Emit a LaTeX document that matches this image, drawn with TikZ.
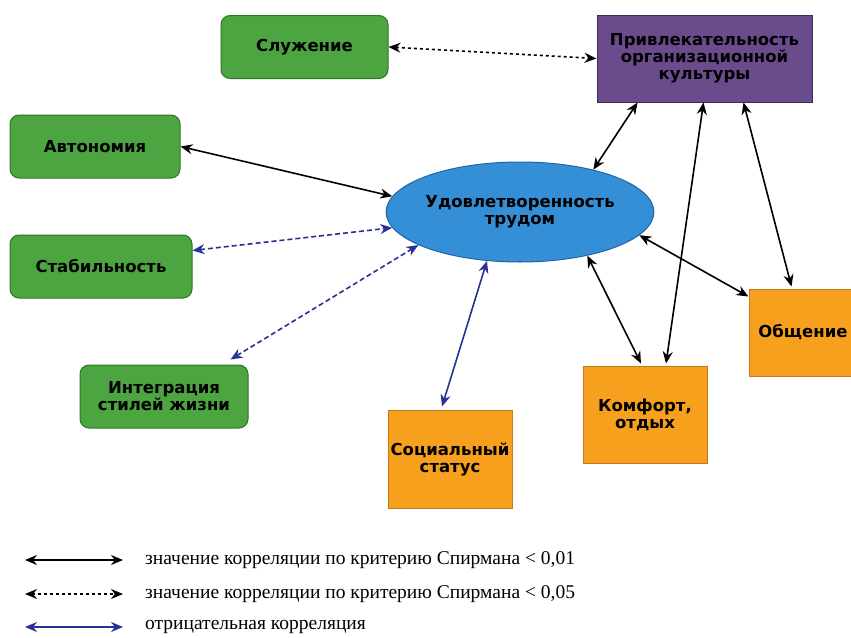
\documentclass[tikz,border=0pt]{standalone}
\usepackage{fontspec}
\setmainfont{Liberation Serif}
\newfontfamily\boxfont{DejaVu Sans}
\usetikzlibrary{arrows.meta,shapes.geometric}
\definecolor{gfill}{RGB}{76,165,64}
\definecolor{gdraw}{RGB}{48,118,40}
\definecolor{pfill}{RGB}{106,76,140}
\definecolor{pdraw}{RGB}{62,42,84}
\definecolor{bfill}{RGB}{52,143,214}
\definecolor{bdraw}{RGB}{36,98,168}
\definecolor{ofill}{RGB}{246,160,30}
\definecolor{odraw}{RGB}{196,122,30}
\definecolor{negc}{RGB}{40,50,150}
\tikzset{
  bfont/.style={font=\boxfont\bfseries\fontsize{16.5}{17}\selectfont},
  gbox/.style={draw=gdraw,fill=gfill,line width=1pt,rounded corners=9pt,inner sep=0pt,bfont,align=center},
  pbox/.style={draw=pdraw,fill=pfill,line width=1pt,inner sep=0pt,bfont,align=center},
  obox/.style={draw=odraw,fill=ofill,line width=1pt,inner sep=0pt,bfont,align=center},
  ell/.style={ellipse,draw=bdraw,fill=bfill,line width=1pt,inner sep=0pt,bfont,align=center},
  solidarr/.style={{Stealth[length=12pt,width=10pt]}-{Stealth[length=12pt,width=10pt]},line width=1.6pt,black},
  dasharr/.style={solidarr,dash pattern=on 3pt off 3pt},
  negarr/.style={solidarr,negc},
  negdash/.style={negarr,dash pattern=on 5pt off 3pt},
  legtext/.style={anchor=west,font=\fontsize{19.5}{22}\selectfont,inner sep=0pt}
}
\begin{document}
\begin{tikzpicture}[x=1pt,y=-1pt]
\useasboundingbox[fill=white] (0,0) rectangle (851,637);
% nodes
\node[gbox,minimum width=167pt,minimum height=63pt] (slu) at (304.5,47) {Служение};
\node[pbox,minimum width=215pt,minimum height=87pt] (priv) at (704.5,58.5) {Привлекательность\\организационной\\культуры};
\node[gbox,minimum width=170pt,minimum height=63pt] (avt) at (95,146.5) {Автономия};
\node[gbox,minimum width=182pt,minimum height=63pt] (stab) at (101,266.5) {Стабильность};
\node[gbox,minimum width=168pt,minimum height=63pt] (integ) at (164,396.5) {Интеграция\\стилей жизни};
\node[ell,minimum width=264pt,minimum height=100pt] (ud) at (520,212) {Удовлетворенность\\трудом};
\node[obox,minimum width=124pt,minimum height=98pt] (soc) at (450,459) {Социальный\\статус};
\node[obox,minimum width=124pt,minimum height=97pt] (kom) at (645,414.5) {Комфорт,\\отдых};
\node[obox,minimum width=108pt,minimum height=87pt] (obs) at (803,332.5) {Общение};
% connectors
\draw[dasharr] (slu.east) -- (priv.west);
\draw[solidarr] (avt.east) -- (ud.173);
\draw[negdash] ([yshift=16pt]stab.east) -- (ud.187);
\draw[negdash] ([xshift=-18pt,yshift=5pt]integ.north east) -- (ud.198);
\draw[negarr] ([xshift=-8pt,yshift=3pt]soc.north) -- (ud.236);
\draw[solidarr] ([xshift=-4pt,yshift=2pt]kom.north) -- (ud.327);
\draw[solidarr] ([xshift=21pt,yshift=2pt]kom.north) -- ([xshift=107pt]priv.south west);
\draw[solidarr] ([yshift=-8pt]obs.north west) -- (ud.349);
\draw[solidarr] ([xshift=43pt,yshift=2pt]obs.north west) -- ([xshift=147pt]priv.south west);
\draw[solidarr] (ud.30) -- ([xshift=41pt]priv.south west);
% legend
\coordinate (l1a) at (25,560); \coordinate (l1b) at (123,560);
\coordinate (l2a) at (25,594); \coordinate (l2b) at (123,594);
\coordinate (l3a) at (25,627); \coordinate (l3b) at (123,627);
\draw[solidarr] (l1a) -- (l1b);
\draw[dasharr] (l2a) -- (l2b);
\draw[negarr] (l3a) -- (l3b);
\node[legtext] (t1) at (145,560) {значение корреляции по критерию Спирмана < 0,01};
\node[legtext] (t2) at (145,594) {значение корреляции по критерию Спирмана < 0,05};
\node[legtext] (t3) at (145,627) {отрицательная корреляция};
\end{tikzpicture}
\end{document}
